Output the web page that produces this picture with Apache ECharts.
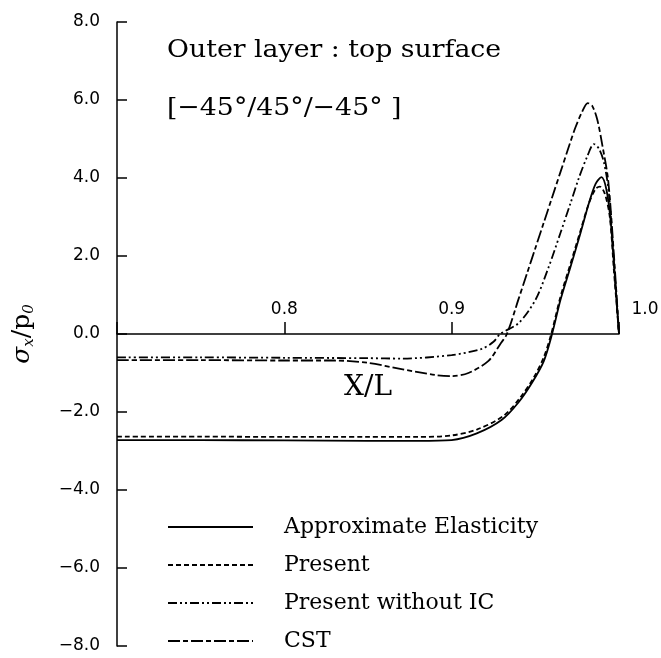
<!DOCTYPE html>
<html>
<head>
<meta charset="utf-8">
<script src="https://cdn.jsdelivr.net/npm/echarts@6/dist/echarts.min.js"></script>
<style>
  html, body { margin: 0; padding: 0; background: #fff; }
  #chart { width: 661px; height: 658px; }
</style>
</head>
<body>
<div id="chart"></div>
<script>
  // sigma_x / p0 along X/L
  const seriesNames = ['Approximate Elasticity', 'Present', 'Present without IC', 'CST'];

  const approxX = [0.70, 0.75, 0.80, 0.85, 0.88, 0.90, 0.915, 0.93, 0.94, 0.948, 0.955, 0.96, 0.965, 0.971, 0.977, 0.982, 0.986, 0.9895, 0.9925, 0.995, 0.9975, 1.0];
  const approxY = [-2.72, -2.72, -2.73, -2.74, -2.74, -2.72, -2.55, -2.2, -1.75, -1.25, -0.7, 0.0, 0.87, 1.72, 2.59, 3.35, 3.85, 4.02, 3.7, 2.9, 1.5, 0.0];

  const presentX = [0.70, 0.75, 0.80, 0.85, 0.88, 0.90, 0.915, 0.931, 0.941, 0.949, 0.955, 0.9595, 0.965, 0.971, 0.977, 0.982, 0.986, 0.9885, 0.9915, 0.9945, 0.997, 1.0];
  const presentY = [-2.63, -2.63, -2.64, -2.64, -2.64, -2.6, -2.45, -2.1, -1.63, -1.12, -0.6, 0.0, 0.95, 1.8, 2.65, 3.35, 3.72, 3.78, 3.6, 3.0, 1.6, 0.0];

  const noIcX = [0.70, 0.75, 0.80, 0.85, 0.87, 0.90, 0.918, 0.925, 0.929, 0.94, 0.95, 0.958, 0.965, 0.971, 0.976, 0.981, 0.985, 0.988, 0.991, 0.994, 0.997, 1.0];
  const noIcY = [-0.6, -0.6, -0.61, -0.62, -0.63, -0.54, -0.38, -0.2, 0.0, 0.28, 0.87, 1.72, 2.59, 3.35, 4.0, 4.55, 4.87, 4.75, 4.4, 3.6, 1.8, 0.0];

  const cstX = [0.70, 0.75, 0.80, 0.83, 0.85, 0.87, 0.89, 0.90, 0.91, 0.922, 0.929, 0.933, 0.94, 0.945, 0.95, 0.955, 0.96, 0.965, 0.97, 0.974, 0.978, 0.9813, 0.984, 0.987, 0.99, 0.9935, 0.997, 1.0];
  const cstY = [-0.67, -0.67, -0.68, -0.68, -0.74, -0.9, -1.05, -1.08, -1.0, -0.69, -0.26, 0.0, 0.9, 1.55, 2.2, 2.85, 3.5, 4.15, 4.8, 5.3, 5.7, 5.92, 5.85, 5.5, 4.85, 3.95, 2.0, 0.0];

  const xTicks = [0.7, 0.8, 0.9, 1.0];
  const yTicks = [-8, -6, -4, -2, 0, 2, 4, 6, 8];

  const dashTypes = ['solid', [5, 3], [9, 3, 2, 3, 2, 3], [12, 3, 5, 3]];

  function zip(xs, ys) {
    return xs.map((x, i) => [x, ys[i]]);
  }

  const allData = [zip(approxX, approxY), zip(presentX, presentY), zip(noIcX, noIcY), zip(cstX, cstY)];

  const serif = '"DejaVu Serif", "Liberation Serif", serif';
  const sans = '"DejaVu Sans", "Liberation Sans", sans-serif';

  const gridTop = 22, gridBottom = 12, chartH = 658;
  // put the x axis on y = 0 (middle of the symmetric y range)
  const xAxisOffset = -(chartH - gridTop - gridBottom) / 2;

  const chart = echarts.init(document.getElementById('chart'));

  const option = {
    animation: false,
    backgroundColor: '#fff',
    grid: { left: 117, right: 42, top: gridTop, bottom: gridBottom, outerBoundsMode: 'none', containLabel: false },
    legend: {
      orient: 'vertical',
      left: 167,
      top: 515,
      padding: 0,
      itemWidth: 85,
      itemHeight: 14,
      itemGap: 14,
      data: seriesNames,
      itemStyle: { opacity: 0, borderWidth: 0 },
      textStyle: {
        fontFamily: serif,
        fontSize: 22,
        color: '#000',
        lineHeight: 24,
        padding: [0, 0, 0, 26]
      }
    },
    xAxis: {
      type: 'value',
      position: 'bottom',
      offset: xAxisOffset,
      min: xTicks[0],
      max: xTicks[xTicks.length - 1],
      interval: 0.1,
      splitLine: { show: false },
      axisLine: { onZero: false, lineStyle: { color: '#000', width: 1.5 } },
      axisTick: { inside: true, length: 12, lineStyle: { color: '#000', width: 1.5 } },
      axisLabel: {
        inside: true,
        margin: 16,
        color: '#000',
        fontFamily: sans,
        fontSize: 17,
        formatter: function (v) {
          let r = Math.round(v * 10) / 10;
          if (r === 0.7) return '';
          if (r === 1.0) return '{r|1.0}';
          return r.toFixed(1);
        },
        rich: {
          r: { fontFamily: sans, fontSize: 17, color: '#000', padding: [0, 0, 0, 52] }
        }
      },
      name: 'X/L',
      nameLocation: 'middle',
      nameGap: 40,
      nameTextStyle: { fontFamily: serif, fontSize: 28, color: '#000' }
    },
    yAxis: {
      type: 'value',
      min: yTicks[0],
      max: yTicks[yTicks.length - 1],
      interval: 2,
      splitLine: { show: false },
      axisLine: { onZero: false, lineStyle: { color: '#000', width: 1.5 } },
      axisTick: { inside: true, length: 10, lineStyle: { color: '#000', width: 1.5 } },
      axisLabel: {
        margin: 17,
        color: '#000',
        fontFamily: sans,
        fontSize: 17,
        formatter: function (v) {
          return (v < 0 ? '\u2212' : '') + Math.abs(v).toFixed(1);
        }
      },
      name: '{a|σ}{b|x}{c|/p}{b|0}',
      nameLocation: 'middle',
      nameGap: 80,
      nameTextStyle: {
        rich: {
          a: { fontFamily: serif, fontStyle: 'italic', fontSize: 25, color: '#000', lineHeight: 30, verticalAlign: 'middle' },
          c: { fontFamily: serif, fontSize: 25, color: '#000', lineHeight: 30, verticalAlign: 'middle' },
          b: { fontFamily: serif, fontStyle: 'italic', fontSize: 15, color: '#000', lineHeight: 14, verticalAlign: 'bottom' }
        }
      }
    },
    graphic: [
      {
        type: 'text',
        x: 167,
        y: 50,
        scaleX: 1.07,
        style: { text: 'Outer layer : top surface', font: '25px ' + serif, fill: '#000', verticalAlign: 'middle' }
      },
      {
        type: 'text',
        x: 167,
        y: 108,
        scaleX: 1.07,
        style: { text: '[\u221245°/45°/\u221245° ]', font: '25px ' + serif, fill: '#000', verticalAlign: 'middle' }
      }
    ],
    series: seriesNames.map((name, i) => ({
      name: name,
      type: 'line',
      data: allData[i],
      symbol: 'none',
      smooth: 0.3,
      lineStyle: { color: '#000', width: 1.8, type: dashTypes[i] },
      itemStyle: { color: '#000' }
    }))
  };

  chart.setOption(option);
</script>
</body>
</html>
